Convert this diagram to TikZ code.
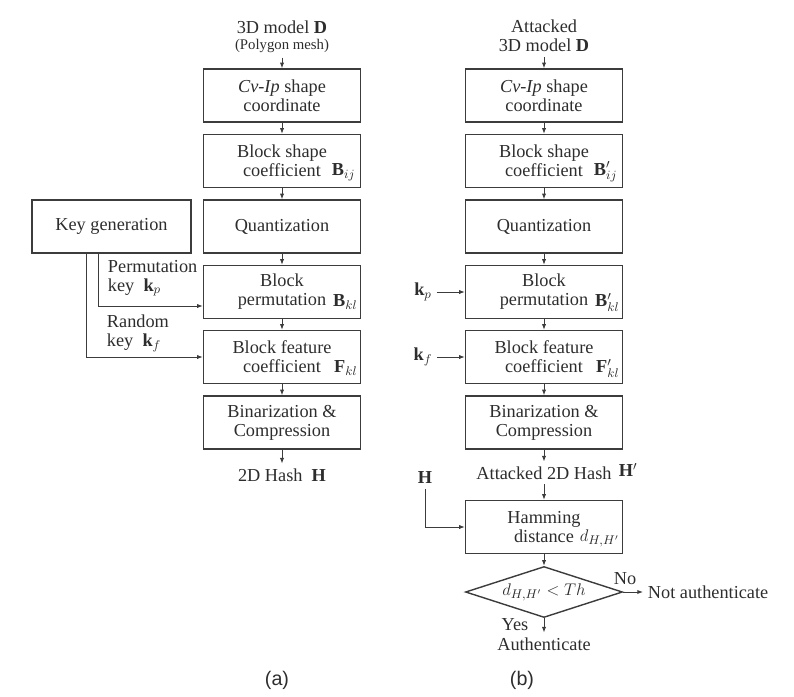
\documentclass[tikz,border=0pt]{standalone}
\usepackage{fontspec}
\setmainfont{Liberation Serif}
\newfontfamily\capfont{Liberation Sans}
\definecolor{boxgray}{RGB}{60,60,60}
\definecolor{txtgray}{RGB}{45,45,45}
\usetikzlibrary{arrows.meta,positioning,shapes.geometric,calc}

\begin{document}
\begin{tikzpicture}[x=0.025cm,y=-0.025cm,
    every node/.style={font=\fontsize{13}{13.5}\selectfont,text=txtgray},
    stage/.style={draw=boxgray,line width=1pt,minimum width=3.925cm,minimum height=1.325cm,align=center,inner sep=2pt},
    sym/.style={anchor=east,inner sep=1pt},
    arr/.style={-{Latex[length=4pt,width=3pt]},draw=boxgray,line width=0.7pt}]
  \useasboundingbox (0,0) rectangle (794,696);

  %% (a) Hash generation
  \node (ina) at (282,27) {3D model $\mathbf{D}$};
  \node[font=\fontsize{10.5}{12}\selectfont] (mesh) at (282,46) {(Polygon mesh)};
  \node[stage] (a1) at (282,95.5)  {\textit{Cv-Ip} shape\\coordinate};
  \node[stage] (a2) at (282,161)   {Block shape\\coefficient};
  \node[stage] (a3) at (282,226.5) {Quantization};
  \node[stage] (a4) at (282,292)   {Block\\permutation};
  \node[stage] (a5) at (282,357)   {Block feature\\coefficient};
  \node[stage] (a6) at (282,422.5) {Binarization \&\\Compression};
  \node (hasha) at (282,475) {2D Hash~~$\mathbf{H}$};
  \node[sym] (bij) at (357,172) {$\mathbf{B}_{ij}$};
  \node[sym] (bkl) at (359,302) {$\mathbf{B}_{kl}$};
  \node[sym] (fkl) at (359,368) {$\mathbf{F}_{kl}$};
  \node[stage,minimum width=3.975cm] (keygen) at (111.5,226.5) {Key generation};
  \node[align=left,anchor=west] (kplab) at (103,278) {Permutation\\key~~$\mathbf{k}_p$};
  \node[align=left,anchor=west] (kflab) at (102,333) {Random\\key~~$\mathbf{k}_f$};
  \draw[arr] (mesh) -- (a1);
  \draw[arr] (a1) -- (a2);
  \draw[arr] (a2) -- (a3);
  \draw[arr] (a3) -- (a4);
  \draw[arr] (a4) -- (a5);
  \draw[arr] (a5) -- (a6);
  \draw[arr] (a6) -- (hasha);
  \draw[arr] ([xshift=-0.3375cm]keygen.south) |- ([yshift=-0.35cm]a4.west);
  \draw[arr] ([xshift=-0.6375cm]keygen.south) |- (a5.west);

  %% (b) Authentication
  \node[align=center] (inb) at (544,36) {Attacked\\3D model $\mathbf{D}$};
  \node[stage] (b1) at (544,95.5)  {\textit{Cv-Ip} shape\\coordinate};
  \node[stage] (b2) at (544,161)   {Block shape\\coefficient};
  \node[stage] (b3) at (544,226.5) {Quantization};
  \node[stage] (b4) at (544,292)   {Block\\permutation};
  \node[stage] (b5) at (544,357)   {Block feature\\coefficient};
  \node[stage] (b6) at (544,422.5) {Binarization \&\\Compression};
  \node (hashb) at (544,473) {Attacked 2D Hash};
  \node (hp) at (628,470) {$\mathbf{H}'$};
  \node[stage] (b7) at (544,527) {Hamming\\distance};
  \node[sym] (bpij) at (619,172) {$\mathbf{B}'_{ij}$};
  \node[sym] (bpkl) at (621,302) {$\mathbf{B}'_{kl}$};
  \node[sym] (fpkl) at (621,368) {$\mathbf{F}'_{kl}$};
  \node[sym] (dhh) at (621,538) {$d_{H,H'}$};
  \node (kp) at (423,292) {$\mathbf{k}_p$};
  \node (kf) at (423,357) {$\mathbf{k}_f$};
  \node (hk) at (425,478) {$\mathbf{H}$};
  \node[draw=boxgray,line width=1pt,shape=diamond,aspect=3,minimum width=3.925cm,
        minimum height=1.275cm,inner sep=0pt] (dec) at (544,592) {$d_{H,H'} < Th$};
  \node[anchor=west] (notauth) at (643,592) {Not authenticate};
  \node (no) at (625,579) {No};
  \node (auth) at (544,644) {Authenticate};
  \node (yes) at (515,625) {Yes};
  \draw[arr] (inb) -- (b1);
  \draw[arr] (b1) -- (b2);
  \draw[arr] (b2) -- (b3);
  \draw[arr] (b3) -- (b4);
  \draw[arr] (b4) -- (b5);
  \draw[arr] (b5) -- (b6);
  \draw[arr] (b6) -- (hashb);
  \draw[arr] (hashb) -- (b7);
  \draw[arr] (kp) -- (b4);
  \draw[arr] (kf) -- (b5);
  \draw[arr] (hk) |- (b7.west);
  \draw[arr] (b7) -- (dec);
  \draw[arr] (dec) -- (notauth);
  \draw[arr] (dec) -- (auth);

  \node[font=\capfont\fontsize{14}{16}\selectfont] (capa) at (277,680) {(a)};
  \node[font=\capfont\fontsize{14}{16}\selectfont] (capb) at (522,680) {(b)};
\end{tikzpicture}
\end{document}
